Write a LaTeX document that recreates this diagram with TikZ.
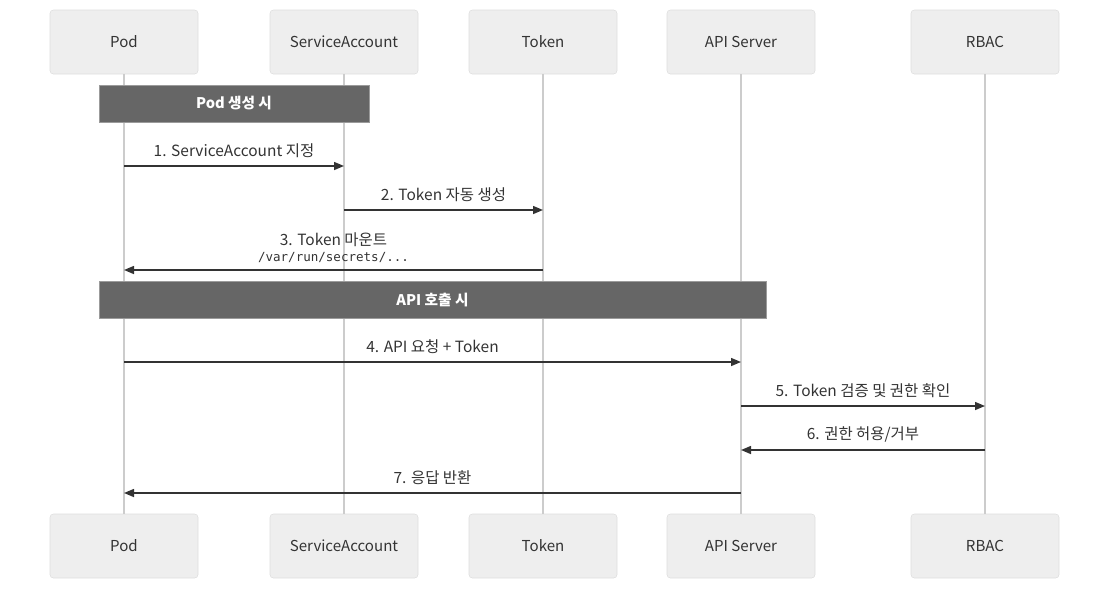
\documentclass[tikz,border=0pt]{standalone}
\usepackage{fontspec}
\setmainfont{Noto Sans CJK KR}
\newfontfamily\monofont{DejaVu Sans Mono}
\usetikzlibrary{arrows.meta}
\definecolor{boxfill}{HTML}{EEEEEE}
\definecolor{boxline}{HTML}{DDDDDD}
\definecolor{lifeline}{HTML}{CCCCCC}
\definecolor{notefill}{HTML}{666666}
\definecolor{msgline}{HTML}{333333}
\tikzset{
  actor/.style={rectangle, rounded corners=2.5pt, draw=boxline, fill=boxfill,
    minimum width=111pt, minimum height=48pt, font=\fontsize{11.3}{13}\selectfont, text=msgline},
  life/.style={draw=lifeline, line width=1.5pt},
  notebox/.style={rectangle, draw=boxline!70!black, fill=notefill, text=white,
    minimum height=27.75pt, font=\fontsize{11}{13}\selectfont\bfseries},
  msg/.style={draw=msgline, line width=1.1pt, -{Triangle[length=7.5pt, width=6pt]}},
  msglabel/.style={above=2pt, font=\fontsize{11.6}{13.5}\selectfont, text=msgline, align=center}
}
\begin{document}
\begin{tikzpicture}[x=0.75pt, y=-0.75pt]
	\useasboundingbox (0,0) rectangle (1117,594);
	\begin{scope}[every node/.style={actor}]
		\node (podT) at (124,42) {Pod};
		\node (saT) at (344,42) {ServiceAccount};
		\node (tokT) at (543,42) {Token};
		\node (apiT) at (741,42) {API Server};
		\node (rbacT) at (985,42) {RBAC};
		\node (podB) at (124,546) {Pod};
		\node (saB) at (344,546) {ServiceAccount};
		\node (tokB) at (543,546) {Token};
		\node (apiB) at (741,546) {API Server};
		\node (rbacB) at (985,546) {RBAC};
	\end{scope}
	\draw[life] (podT) -- (podB);
	\draw[life] (saT) -- (saB);
	\draw[life] (tokT) -- (tokB);
	\draw[life] (apiT) -- (apiB);
	\draw[life] (rbacT) -- (rbacB);
	% notes
	\node[notebox, minimum width=202.5pt] (noteA) at (234,103.5) {Pod 생성 시};
	\node[notebox, minimum width=500.25pt] (noteB) at (432.5,300) {API 호출 시};
	% messages
	\coordinate (m1) at (0,166);
	\coordinate (m2) at (0,210);
	\coordinate (m3) at (0,270);
	\coordinate (m4) at (0,362);
	\coordinate (m5) at (0,406);
	\coordinate (m6) at (0,450);
	\coordinate (m7) at (0,493);
	\draw[msg] (podT |- m1) -- (saT |- m1) node[msglabel, midway] {1. ServiceAccount 지정};
	\draw[msg] (saT |- m2) -- (tokT |- m2) node[msglabel, midway] {2. Token 자동 생성};
	\draw[msg] (tokT |- m3) -- (podT |- m3) node[msglabel, midway] {3. Token 마운트\\[-2pt]{\monofont\fontsize{9.4}{11}\selectfont /var/run/secrets/...}};
	\draw[msg] (podT |- m4) -- (apiT |- m4) node[msglabel, midway] {4. API 요청 + Token};
	\draw[msg] (apiT |- m5) -- (rbacT |- m5) node[msglabel, midway] {5. Token 검증 및 권한 확인};
	\draw[msg] (rbacT |- m6) -- (apiT |- m6) node[msglabel, midway] {6. 권한 허용/거부};
	\draw[msg] (apiT |- m7) -- (podT |- m7) node[msglabel, midway] {7. 응답 반환};
\end{tikzpicture}
\end{document}
